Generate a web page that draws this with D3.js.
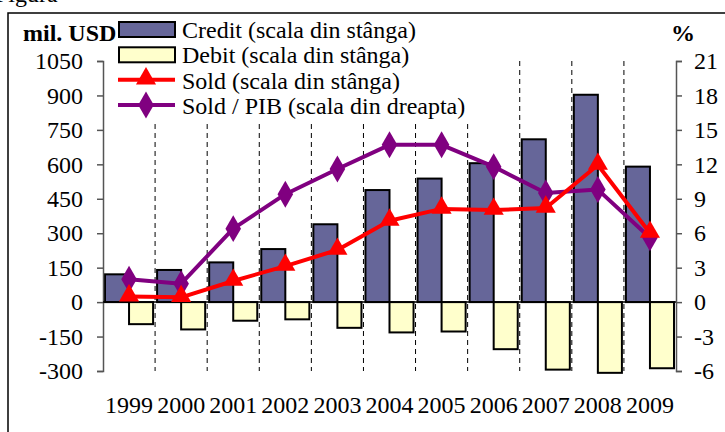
<!DOCTYPE html>
<html>
<head>
<meta charset="utf-8">
<script src="https://cdn.jsdelivr.net/npm/d3@7"></script>
<style>
  body { margin: 0; background: #fff; }
  svg text { font-family: "Liberation Serif", "Times New Roman", serif; }
</style>
</head>
<body>
<div id="canvas"></div>
<script>
// values
const years = ["1999","2000","2001","2002","2003","2004","2005","2006","2007","2008","2009"];
const credit = [121, 140, 173, 231, 339, 488, 538, 605, 709, 903, 590];
const debit = [-96, -119, -81, -75, -112, -132, -128, -205, -294, -308, -288];
const sold = [24, 21, 92, 157, 227, 354, 406, 401, 410, 597, 301];
const soldPib = [2.0, 1.6, 6.4, 9.4, 11.6, 13.7, 13.7, 11.8, 9.5, 9.8, 5.6];
const leftTicks = [-300, -150, 0, 150, 300, 450, 600, 750, 900, 1050];
const rightTicks = [-6, -3, 0, 3, 6, 9, 12, 15, 18, 21];
const legendLabels = [
  "Credit (scala din stânga)",
  "Debit (scala din stânga)",
  "Sold (scala din stânga)",
  "Sold / PIB (scala din dreapta)"
];

const width = 725, height = 432;
const margin = { top: 61, left: 103, bottom: 61, right: 49 };
const iwidth = width - margin.left - margin.right;
const iheight = height - margin.top - margin.bottom;
const serif = "Liberation Serif";
const fs = 24;

const svg = d3.select("#canvas").append("svg")
  .attr("width", width).attr("height", height);

// outer frame (runs off the right and bottom edges)
svg.append("rect")
  .attr("x", 8).attr("y", 13).attr("width", 740).attr("height", 440)
  .attr("fill", "none").attr("stroke", "#000").attr("stroke-width", 1.5);

// caption line above the frame, mostly off the top edge
svg.append("text").attr("x", -5).attr("y", 2)
  .attr("font-family", serif).attr("font-size", fs).text("Figura");

const x = d3.scaleBand().domain(years).range([0, iwidth]).padding(0);
const xs = d3.scaleBand().domain(["credit", "debit"]).range([2, x.bandwidth() - 2]);
const y = d3.scaleLinear().domain([-300, 1050]).range([iheight, 0]);
const y2 = d3.scaleLinear().domain([-6, 21]).range([iheight, 0]);
const fmt = d => String(d);

const g = svg.append("g").attr("transform", `translate(${margin.left},${margin.top})`);

// dashed separators between years
g.append("g").selectAll("line")
  .data(years.slice(1))
  .enter().append("line")
  .attr("x1", d => x(d)).attr("x2", d => x(d))
  .attr("y1", 0).attr("y2", iheight)
  .attr("stroke", "#000").attr("stroke-width", 1)
  .attr("stroke-dasharray", "5,4");

// bars
const bars = g.append("g");
bars.selectAll("rect.credit")
  .data(credit)
  .enter().append("rect")
  .attr("class", "credit")
  .attr("x", (d, i) => x(years[i]) + xs("credit"))
  .attr("y", d => y(d))
  .attr("width", xs.bandwidth())
  .attr("height", d => y(0) - y(d))
  .style("fill", "#666699").attr("stroke", "#000").attr("stroke-width", 2);

bars.selectAll("rect.debit")
  .data(debit)
  .enter().append("rect")
  .attr("class", "debit")
  .attr("x", (d, i) => x(years[i]) + xs("debit"))
  .attr("y", y(0))
  .attr("width", xs.bandwidth())
  .attr("height", d => y(d) - y(0))
  .style("fill", "#FFFFCC").attr("stroke", "#000").attr("stroke-width", 2);

// left axis
const yAxis = g.append("g")
  .call(d3.axisLeft(y).tickValues(leftTicks).tickFormat(fmt).tickSize(6).tickPadding(14));
yAxis.attr("font-family", serif);
yAxis.select(".domain").attr("stroke", "#555").attr("stroke-width", 1.5);
yAxis.selectAll(".tick line").attr("stroke", "#555").attr("stroke-width", 1.5);
yAxis.selectAll("text").attr("font-size", fs).attr("font-family", serif).attr("fill", "#000");

// right axis
const y2Axis = g.append("g")
  .attr("transform", `translate(${iwidth},0)`)
  .call(d3.axisRight(y2).tickValues(rightTicks).tickFormat(fmt).tickSize(6).tickPadding(12));
y2Axis.attr("font-family", serif);
y2Axis.select(".domain").attr("stroke", "#555").attr("stroke-width", 1.5);
y2Axis.selectAll(".tick line").attr("stroke", "#555").attr("stroke-width", 1.5);
y2Axis.selectAll("text").attr("font-size", fs).attr("font-family", serif).attr("fill", "#000");

// zero line
g.append("line")
  .attr("x1", 0).attr("x2", iwidth).attr("y1", y(0)).attr("y2", y(0))
  .attr("stroke", "#000").attr("stroke-width", 1.5);

// year labels
g.append("g").selectAll("text")
  .data(years)
  .enter().append("text")
  .attr("x", d => x(d) + x.bandwidth() / 2)
  .attr("y", iheight + 42)
  .attr("text-anchor", "middle")
  .attr("font-family", serif)
  .attr("font-size", fs)
  .text(d => d);

const cx = i => x(years[i]) + x.bandwidth() / 2;
const tri = d3.symbol().type(d3.symbolTriangle).size(175);
const dia = d3.symbol().type(d3.symbolDiamond).size(210);

// Sold / PIB line (right scale)
g.append("path")
  .datum(soldPib)
  .attr("fill", "none").attr("stroke", "#800080").attr("stroke-width", 4)
  .attr("stroke-linejoin", "round")
  .attr("d", d3.line().x((d, i) => cx(i)).y(d => y2(d)));
g.append("g").selectAll("path")
  .data(soldPib)
  .enter().append("path")
  .attr("d", dia)
  .attr("transform", (d, i) => `translate(${cx(i)},${y2(d)})`)
  .attr("fill", "#800080");

// Sold line (left scale)
g.append("path")
  .datum(sold)
  .attr("fill", "none").attr("stroke", "#FF0000").attr("stroke-width", 4)
  .attr("stroke-linejoin", "round")
  .attr("d", d3.line().x((d, i) => cx(i)).y(d => y(d)));
g.append("g").selectAll("path")
  .data(sold)
  .enter().append("path")
  .attr("d", tri)
  .attr("transform", (d, i) => `translate(${cx(i)},${y(d) - 1})`)
  .attr("fill", "#FF0000");

// axis titles
svg.append("text").attr("x", 23).attr("y", 41)
  .attr("font-family", serif).attr("font-size", fs).attr("font-weight", "bold").text("mil. USD");
svg.append("text").attr("x", 671).attr("y", 41)
  .attr("font-family", serif).attr("font-size", fs).attr("font-weight", "bold").text("%");

// legend
const legend = svg.append("g").attr("transform", "translate(116,0)");
legend.append("rect")
  .attr("x", 0).attr("y", 15).attr("width", 355).attr("height", 107)
  .attr("fill", "#fff");
const rowY = [38, 63.3, 88.7, 114];
const items = legend.selectAll("g.item")
  .data(legendLabels)
  .enter().append("g")
  .attr("transform", (d, i) => `translate(0,${rowY[i]})`);
items.each(function (d, i) {
  const it = d3.select(this);
  if (i < 2) {
    it.append("rect").attr("x", 3).attr("y", -16).attr("width", 56).attr("height", 15)
      .attr("fill", i === 0 ? "#666699" : "#FFFFCC")
      .attr("stroke", "#000").attr("stroke-width", 2);
  } else {
    it.append("line").attr("x1", 2).attr("x2", 59).attr("y1", -9).attr("y2", -9)
      .attr("stroke", i === 2 ? "#FF0000" : "#800080").attr("stroke-width", 4);
    it.append("path").attr("d", i === 2 ? tri : dia)
      .attr("transform", i === 2 ? "translate(30,-10)" : "translate(30,-9)")
      .attr("fill", i === 2 ? "#FF0000" : "#800080");
  }
  it.append("text").attr("x", 66).attr("y", 0)
    .attr("font-family", serif).attr("font-size", fs).text(d);
});
</script>
</body>
</html>
